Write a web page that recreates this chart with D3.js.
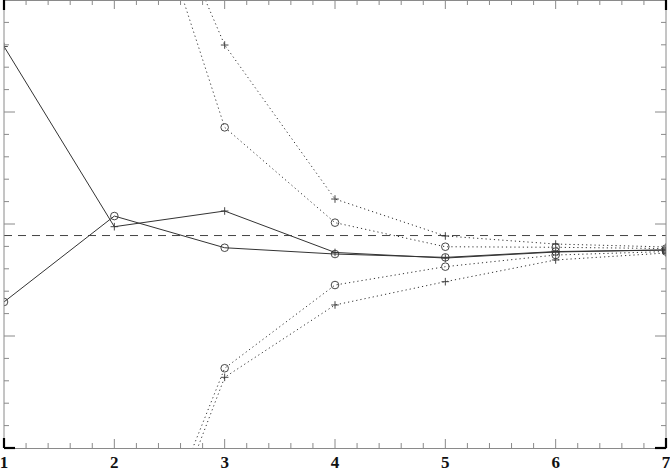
<!DOCTYPE html>
<html>
<head>
<meta charset="utf-8">
<script src="https://cdn.jsdelivr.net/npm/d3@7"></script>
<style>
  html, body { margin: 0; padding: 0; background: #fff; }
  svg { display: block; }
</style>
</head>
<body>
<svg id="chart" width="670" height="472"></svg>
<script>
// ---- data ----
const xTicks = [1, 2, 3, 4, 5, 6, 7];
const xLabels = ["1", "2", "3", "4", "5", "6", "7"];
const xs = [1, 2, 3, 4, 5, 6, 7];
const circleSeries = [1.304, 2.071, 1.788, 1.732, 1.702, 1.754, 1.768];
const plusSeries   = [3.585, 1.976, 2.116, 1.746, 1.696, 1.750, 1.768];
const bandXs = [2, 3, 4, 5, 6, 7];
const circleUpper = [5.893, 2.863, 2.012, 1.797, 1.792, 1.781];
const circleLower = [-1.75, 0.712, 1.455, 1.619, 1.723, 1.754];
const plusUpper   = [5.893, 3.598, 2.223, 1.893, 1.821, 1.795];
const plusLower   = [-1.94, 0.631, 1.277, 1.485, 1.679, 1.741];
const refLevel = 1.897;

// ---- layout ----
const svg = d3.select("#chart");
const L = 4, R = 666, T = 0, B = 448;
const x = d3.scaleLinear().domain([1, 7]).range([L, R]);
const y = d3.scaleLinear().domain([0, 4]).range([B, T]);
const ink = "#333";

svg.append("defs").append("clipPath").attr("id", "clip")
  .append("rect").attr("x", L).attr("y", T).attr("width", R - L).attr("height", B - T);

const plot = svg.append("g").attr("clip-path", "url(#clip)");

// reference dashed line
plot.append("line")
  .attr("x1", x(1)).attr("x2", x(7))
  .attr("y1", y(refLevel)).attr("y2", y(refLevel))
  .attr("stroke", "#444").attr("stroke-width", 1)
  .attr("stroke-dasharray", "8,6");

const line = d3.line().x(d => x(d[0])).y(d => y(d[1]));

function drawLine(xv, yv, dashed) {
  plot.append("path")
    .attr("d", line(xv.map((v, i) => [v, yv[i]])))
    .attr("fill", "none")
    .attr("stroke", ink)
    .attr("stroke-width", 1)
    .attr("stroke-dasharray", dashed ? "1.2,3" : null);
}
function drawCircles(xv, yv) {
  plot.selectAll(null).data(xv.map((v, i) => [v, yv[i]])).enter()
    .append("circle")
    .attr("cx", d => x(d[0])).attr("cy", d => y(d[1]))
    .attr("r", 3.8).attr("fill", "none").attr("stroke", ink).attr("stroke-width", 0.9);
}
function drawPlus(xv, yv) {
  const g = plot.selectAll(null).data(xv.map((v, i) => [v, yv[i]])).enter().append("g");
  g.append("line").attr("x1", d => x(d[0]) - 3.8).attr("x2", d => x(d[0]) + 3.8)
    .attr("y1", d => y(d[1])).attr("y2", d => y(d[1])).attr("stroke", ink).attr("stroke-width", 0.9);
  g.append("line").attr("x1", d => x(d[0])).attr("x2", d => x(d[0]))
    .attr("y1", d => y(d[1]) - 3.8).attr("y2", d => y(d[1]) + 3.8).attr("stroke", ink).attr("stroke-width", 0.9);
}

drawLine(bandXs, circleUpper, true);
drawLine(bandXs, circleLower, true);
drawLine(bandXs, plusUpper, true);
drawLine(bandXs, plusLower, true);
drawLine(xs, circleSeries, false);
drawLine(xs, plusSeries, false);

drawCircles(bandXs, circleUpper);
drawCircles(bandXs, circleLower);
drawPlus(bandXs, plusUpper);
drawPlus(bandXs, plusLower);
drawCircles(xs, circleSeries);
drawPlus(xs, plusSeries);

// ---- axes ----
const frame = "#8a8a8a";
const minorX = d3.range(1, 7.001, 0.2);
const minorY = d3.range(0, 4.001, 0.2);

function isMajor(v) { return Math.abs(v - Math.round(v)) < 1e-6; }

const bottom = svg.append("g").attr("transform", `translate(0,${B})`)
  .call(d3.axisBottom(x).tickValues(minorX).tickSize(0).tickFormat(""));
bottom.select(".domain").attr("stroke", frame);

const axG = svg.append("g").attr("class", "ticks");
// x ticks (bottom, pointing up; top, pointing down)
minorX.forEach(v => {
  const len = isMajor(v) ? 9 : 5;
  axG.append("line").attr("x1", x(v)).attr("x2", x(v)).attr("y1", B).attr("y2", B - len).attr("stroke", frame);
  axG.append("line").attr("x1", x(v)).attr("x2", x(v)).attr("y1", T).attr("y2", T + len).attr("stroke", frame);
});
// y ticks (left pointing right; right pointing left)
minorY.forEach(v => {
  const len = isMajor(v) ? 11 : 5;
  axG.append("line").attr("x1", L).attr("x2", L + len).attr("y1", y(v)).attr("y2", y(v)).attr("stroke", frame);
  axG.append("line").attr("x1", R).attr("x2", R - len).attr("y1", y(v)).attr("y2", y(v)).attr("stroke", frame);
});
// frame lines
svg.append("line").attr("x1", L).attr("x2", L).attr("y1", T).attr("y2", B).attr("stroke", frame);
svg.append("line").attr("x1", R).attr("x2", R).attr("y1", T).attr("y2", B).attr("stroke", frame);
svg.append("line").attr("x1", L).attr("x2", R).attr("y1", T + 0.5).attr("y2", T + 0.5).attr("stroke", frame);

// dark corner marks
const corners = [
  [L, T, L, T + 10], [R, T, R, T + 10],
  [L, B - 10, L, B], [L, B, L + 11, B],
  [R, B - 10, R, B], [R - 11, B, R, B]
];
corners.forEach(c => svg.append("line")
  .attr("x1", c[0]).attr("y1", c[1]).attr("x2", c[2]).attr("y2", c[3])
  .attr("stroke", "#000").attr("stroke-width", 2.2));

// x tick labels
svg.append("g").selectAll("text").data(xTicks).enter().append("text")
  .attr("x", d => x(d)).attr("y", 468)
  .attr("text-anchor", "middle")
  .attr("font-family", "'Liberation Serif', 'DejaVu Serif', serif")
  .attr("font-weight", "bold").attr("font-size", 17).attr("fill", "#111")
  .text((d, i) => xLabels[i]);
</script>
</body>
</html>
